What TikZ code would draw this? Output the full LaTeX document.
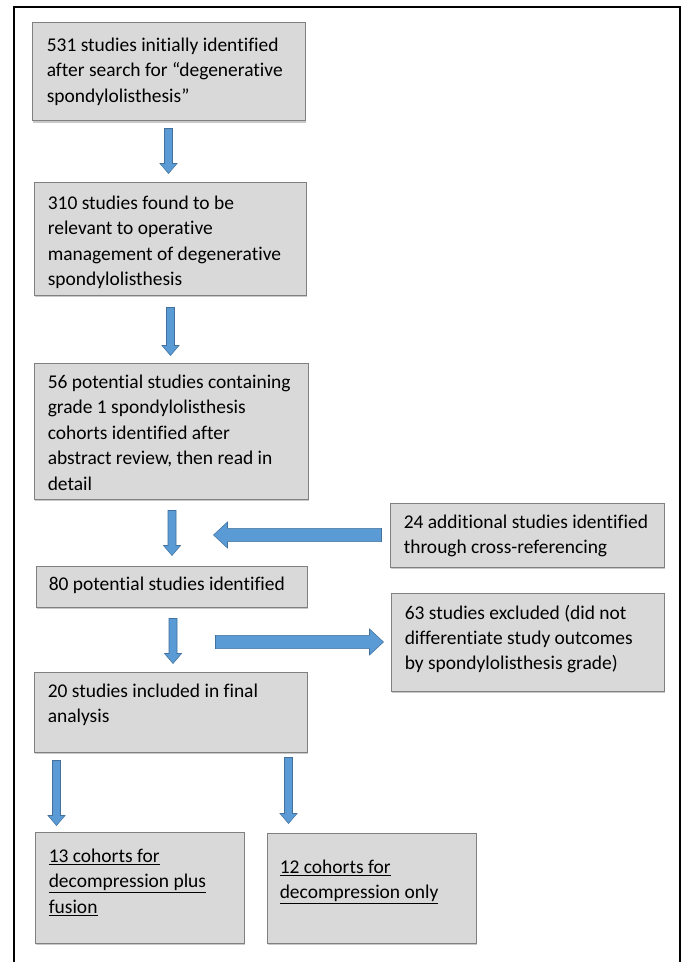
\documentclass[tikz,border=0pt]{standalone}
\usepackage{fontspec}
\setmainfont{Carlito}[Ligatures=NoCommon]
\usetikzlibrary{calc,fit,shadows}
\definecolor{boxfill}{HTML}{D9D9D9}
\definecolor{boxline}{HTML}{808080}
\definecolor{arrfill}{HTML}{5B9BD5}
\definecolor{arrline}{HTML}{41719C}
\tikzset{
  boxnode/.style={draw=boxline, fill=boxfill, line width=0.75pt, inner sep=0pt,
    drop shadow={shadow xshift=0.6pt, shadow yshift=-1.2pt, opacity=0.35, fill=black!60}},
  txt/.style={inner sep=0pt, align=left, anchor=north west,
    font=\fontsize{14.6}{19.1}\selectfont, text=black},
  blkarrow/.style={fill=arrfill, draw=arrline, line width=0.4pt, line join=miter},
  frameline/.style={draw=black, line width=1.6pt}
}
% thin vertical block arrow: #1 start (top), #2 tip (bottom)
\newcommand{\vblk}[2]{%
  \filldraw[blkarrow] let \p1=(#1), \p2=(#2) in
    (\x1-3pt,\y1) -- (\x1+3pt,\y1) -- (\x1+3pt,\y2+7.5pt) -- (\x1+6.4pt,\y2+7.5pt)
    -- (\x1,\y2) -- (\x1-6.4pt,\y2+7.5pt) -- (\x1-3pt,\y2+7.5pt) -- cycle;}
% thick horizontal block arrow: #1 start, #2 tip, #3 direction sign (+1 right, -1 left)
\newcommand{\hblk}[3]{%
  \filldraw[blkarrow] let \p1=(#1), \p2=(#2) in
    (\x1,\y1+4.9pt) -- (\x2-#3*10.5pt,\y1+4.9pt) -- (\x2-#3*10.5pt,\y1+9.8pt)
    -- (\x2,\y1) -- (\x2-#3*10.5pt,\y1-9.8pt) -- (\x2-#3*10.5pt,\y1-4.9pt)
    -- (\x1,\y1-4.9pt) -- cycle;}
\begin{document}
\begin{tikzpicture}[x=0.75pt, y=-0.75pt]
\useasboundingbox (0,0) rectangle (681,962);
\fill[white] (0,0) rectangle (681,962);
% outer frame
\coordinate (fA) at (14,962);
\coordinate (fB) at (14,7);
\coordinate (fC) at (680,7);
\coordinate (fD) at (680,962);
\draw[frameline] (fA) -- (fB) -- (fC) -- (fD);

% boxes
\node[boxnode, fit={(32,23) (305,121)}] (b1) {};
\node[boxnode, fit={(34,183) (306,295)}] (b2) {};
\node[boxnode, fit={(34,363) (308,499)}] (b3) {};
\node[boxnode, fit={(390,503) (664,567)}] (b4) {};
\node[boxnode, fit={(36,566) (307,607)}] (b5) {};
\node[boxnode, fit={(391,593) (664,691)}] (b6) {};
\node[boxnode, fit={(34,672) (307,752)}] (b7) {};
\node[boxnode, fit={(35,832) (244,943)}] (b8) {};
\node[boxnode, fit={(267,833) (476,943)}] (b9) {};

% texts
\node[txt] (t1) at ($(b1.north west)+(15,15)$)
  {531 studies initially identified\\after search for “degenerative\\spondylolisthesis”};
\node[txt] (t2) at ($(b2.north west)+(14,13)$)
  {310 studies found to be\\relevant to operative\\management of degenerative\\spondylolisthesis};
\node[txt] (t3) at ($(b3.north west)+(14,12)$)
  {56 potential studies containing\\grade 1 spondylolisthesis\\cohorts identified after\\abstract review, then read in\\detail};
\node[txt] (t4) at ($(b4.north west)+(14,12)$)
  {24 additional studies identified\\through cross-referencing};
\node[txt] (t5) at ($(b5.north west)+(13,11)$)
  {80 potential studies identified};
\node[txt] (t6) at ($(b6.north west)+(14,12)$)
  {63 studies excluded (did not\\differentiate study outcomes\\by spondylolisthesis grade)};
\node[txt] (t7) at ($(b7.north west)+(14,12)$)
  {20 studies included in final\\analysis};
\node[txt] (t8) at ($(b8.north west)+(14,17)$)
  {\underline{13 cohorts for}\\\underline{decompression plus}\\\underline{fusion}};
\node[txt] (t9) at ($(b9.north west)+(13,27)$)
  {\underline{12 cohorts for}\\\underline{decompression only}};

% arrows
\vblk{$(b1.south)+(0,7)$}{$(b2.north)+(0,-9)$}
\vblk{$(b2.south)+(0.5,12)$}{$(b3.north)+(0,-7)$}
\vblk{$(b3.south)+(1,11)$}{$(b5.north)+(0,-10)$}
\vblk{$(b5.south)+(1.5,11)$}{$(b7.north)+(0,-8)$}
\vblk{$(b7.south west)+(23,8)$}{$(b8.north west)+(22,-6)$}
\vblk{$(b7.south west)+(255,5)$}{$(b8.north west)+(254,-8)$}
\hblk{$(b4.west)+(-8,0)$}{$(b4.west)+(-176,0)$}{-1}
\hblk{$(b6.west)+(-175,0)$}{$(b6.west)+(-7,0)$}{1}
\end{tikzpicture}
\end{document}
